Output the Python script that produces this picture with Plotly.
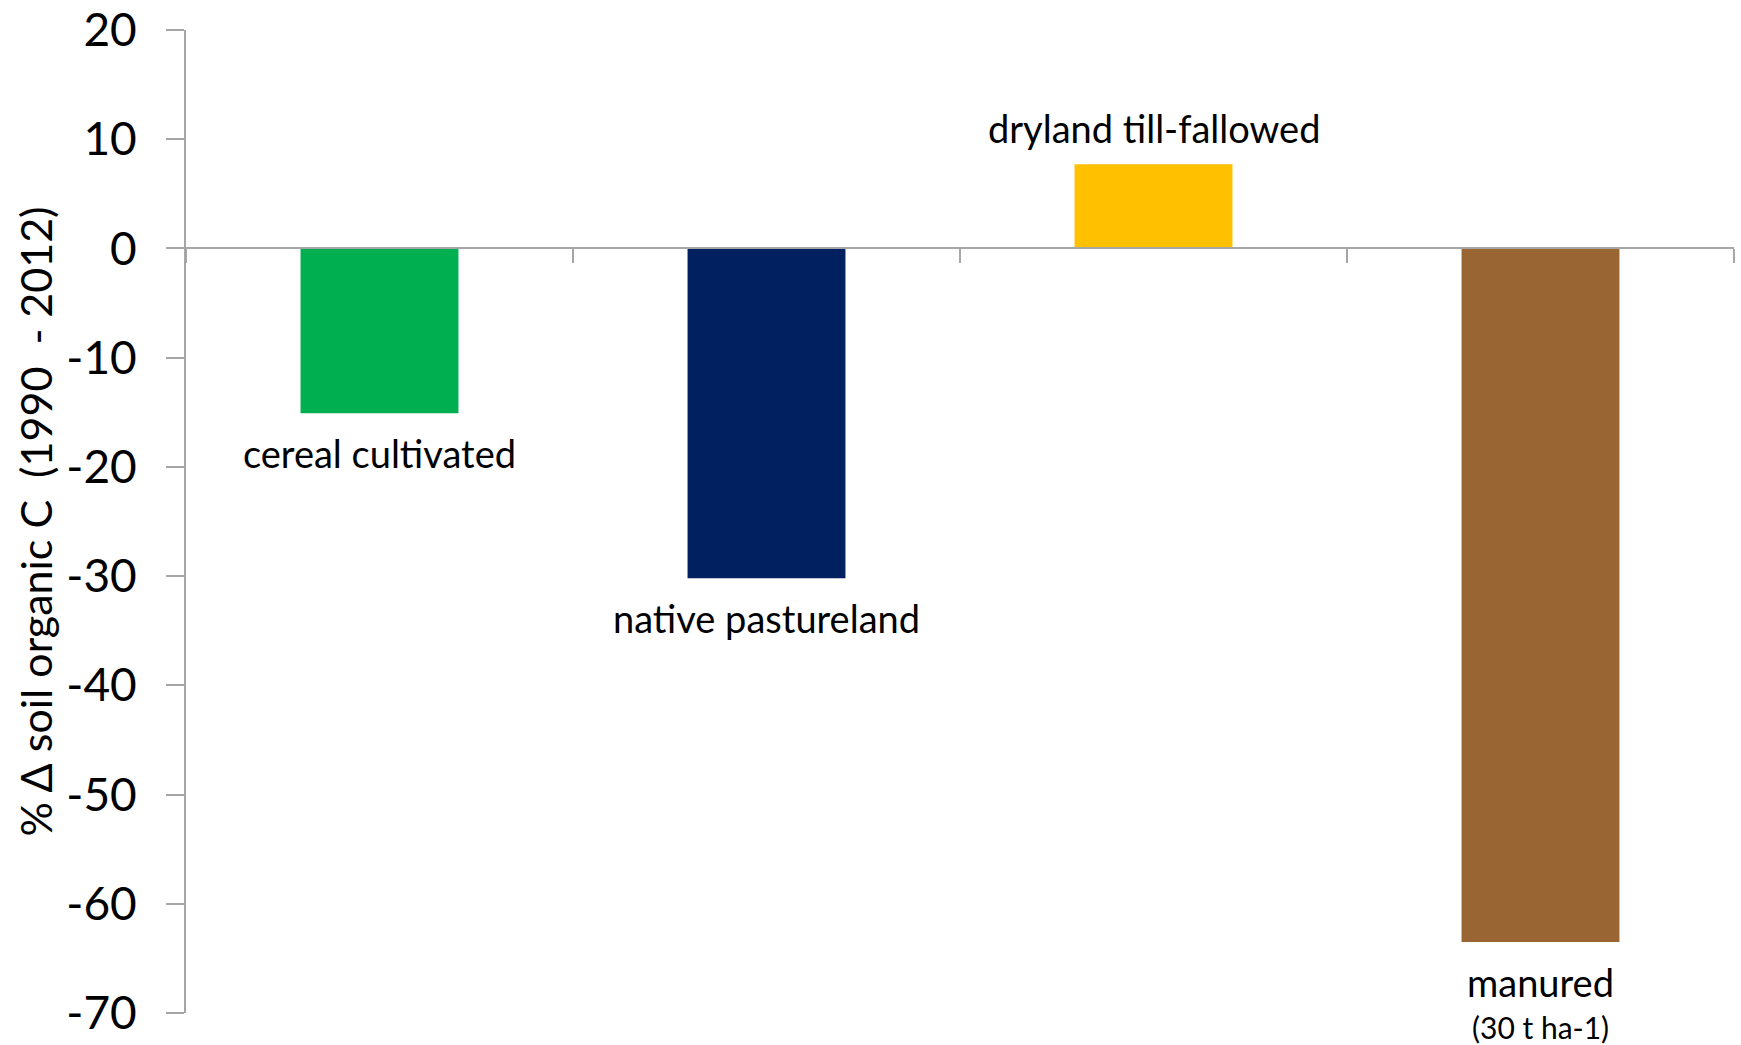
import plotly.graph_objects as go

categories = ["cereal cultivated", "native pastureland", "dryland till-fallowed", "manured"]
values = [-15.1, -30.2, 7.7, -63.5]
bar_labels = ["cereal cultivated", "native pastureland", "dryland till-fallowed", "manured"]
bar_sublabels = ["", "", "", "(30 t ha-1)"]
colors = ["#00B050", "#002060", "#FFC000", "#996633"]
y_ticks = [20, 10, 0, -10, -20, -30, -40, -50, -60, -70]
y_title = "% \u0394 soil organic C \u00a0(1990 \u00a0- 2012)"

ymin, ymax = -70, 20
axis_gray = "#A6A6A6"
font_family = "Lato, 'Open Sans', sans-serif"
label_size = 38

fig = go.Figure()
fig.add_trace(go.Bar(
    x=categories, y=values,
    marker=dict(color=colors, line=dict(width=0)),
    showlegend=False, hoverinfo="skip",
))

annotations = []
for cat, v, lab, sub in zip(categories, values, bar_labels, bar_sublabels):
    sign = 1 if v >= 0 else -1
    annotations.append(dict(x=cat, y=v, xref="x", yref="y", text=lab, showarrow=False,
                            yanchor="middle", yshift=36 if v >= 0 else -40,
                            font=dict(family=font_family, size=label_size, color="#000000")))
    if sub:
        annotations.append(dict(x=cat, y=v, xref="x", yref="y", text=sub, showarrow=False,
                                yanchor="middle", yshift=sign * 85,
                                font=dict(family=font_family, size=30, color="#000000")))

annotations.append(dict(x=0, y=0.5, xref="paper", yref="paper", text=y_title,
                        showarrow=False, textangle=-90, xanchor="center", yanchor="middle",
                        xshift=-151,
                        font=dict(family=font_family, size=43, color="#000000")))

fig.update_layout(
    width=1741, height=1045,
    margin=dict(l=186, r=7, t=30, b=32, autoexpand=False),
    paper_bgcolor="white", plot_bgcolor="white",
    bargap=0.592,
    annotations=annotations,
    xaxis=dict(
        type="category", categoryorder="array", categoryarray=categories,
        range=[-0.5, len(categories) - 0.5],
        anchor="free", position=(0 - ymin) / (ymax - ymin),
        showline=True, linecolor=axis_gray, linewidth=2,
        ticks="outside", tickson="boundaries", ticklen=14, tickcolor=axis_gray, tickwidth=2,
        showticklabels=False, showgrid=False, zeroline=False, automargin=False,
    ),
    yaxis=dict(
        range=[ymin, ymax], tickvals=y_ticks, ticktext=[str(t) for t in y_ticks],
        showline=True, linecolor=axis_gray, linewidth=2,
        ticks="outside", ticklen=18, tickcolor=axis_gray, tickwidth=2,
        ticklabelstandoff=20, ticklabeloverflow="allow",
        tickfont=dict(family=font_family, size=46, color="#000000"),
        showgrid=False, zeroline=False, automargin=False,
    ),
)

fig.write_html("out.html")
